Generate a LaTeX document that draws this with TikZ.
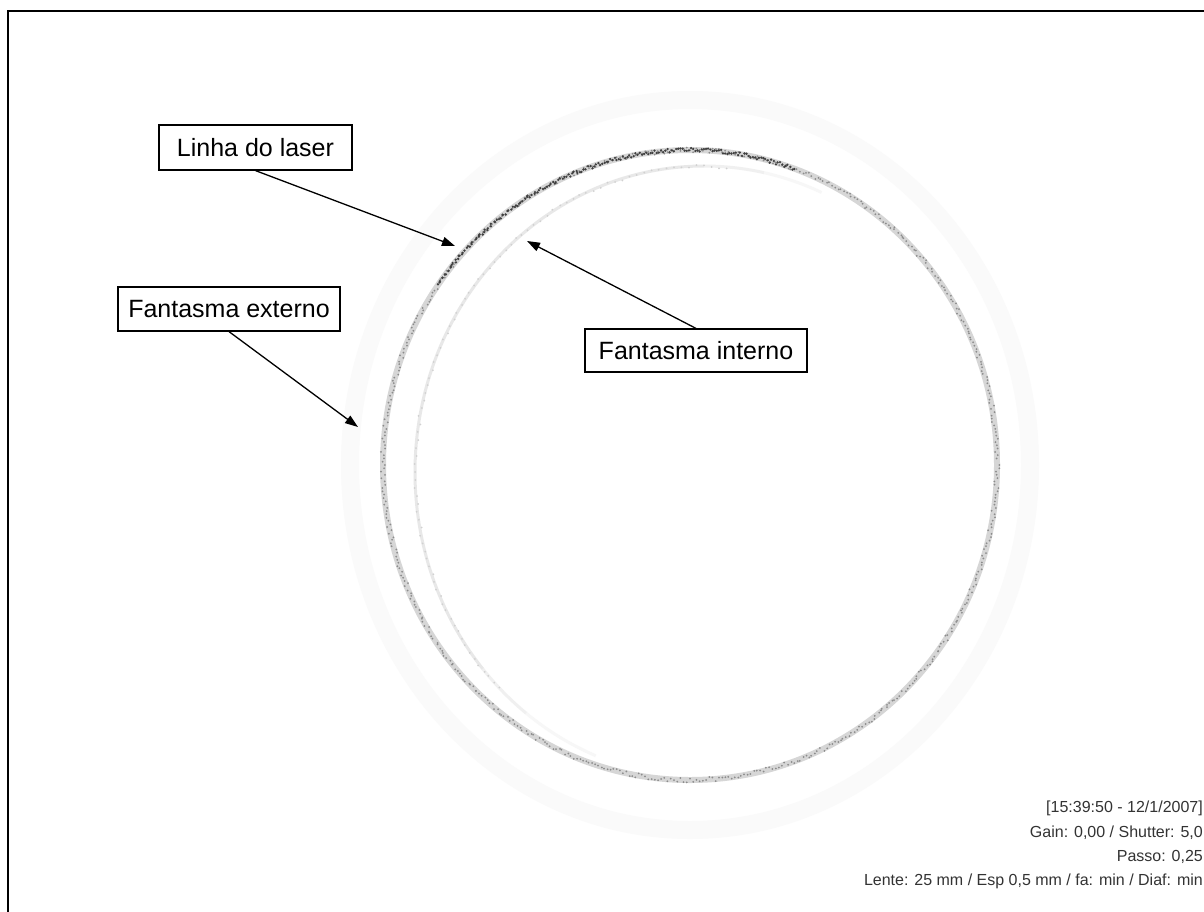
\documentclass[tikz,border=0pt]{standalone}
\usepackage{fontspec}
\setmainfont{Liberation Sans}
\usetikzlibrary{positioning,arrows.meta,calc}

\begin{document}
\begin{tikzpicture}[
  x=1pt, y=-1pt,
  labelbox/.style={draw=black, fill=white, line width=1.2pt, inner sep=0pt, font=\fontsize{25}{30}\selectfont},
  arrow/.style={-{Triangle[length=13pt,width=9pt]}, line width=1.3pt},
  info/.style={anchor=base east, inner sep=0pt, text=black!80, font=\fontsize{16}{19}\selectfont}
]
\useasboundingbox (0,0) rectangle (1204,911);
\clip (0,0) rectangle (1204,911);
\fill[white] (0,0) rectangle (1204,911);
\draw[line width=2.6pt] (8,950) |- (1250,11);

% rings
\coordinate (ring) at (690,465);
\coordinate (ghostin) at (704,472);
\draw[black!2, line width=18pt] (ring) ellipse (340 and 365);
\foreach \s/\e/\c in {112/128/3, 128/140/6, 140/270/9, 270/282/6, 282/294/3}
  \draw[black!\c, line width=3pt] (ghostin) ++(\s:289 and 306) arc[start angle=\s, end angle=\e, x radius=289, y radius=306];
\draw[black!16, line width=6pt] (ring) ellipse (307 and 315);
\pgfmathsetseed{42}
\foreach \a in {135,136.5,...,275}{
  \pgfmathsetmacro\px{704+(289+2*rand)*cos(\a)}
  \pgfmathsetmacro\py{472+(306+2*rand)*sin(\a)}
  \fill[black!18] (\px,\py) circle (1);
}
\foreach \a in {0,0.6,...,359.4}{
  \pgfmathsetmacro\px{690+(307+2.5*rand)*cos(\a)}
  \pgfmathsetmacro\py{465+(315+2.5*rand)*sin(\a)}
  \fill[black!45] (\px,\py) circle (1);
}
\foreach \a in {215,215.4,...,290}{
  \pgfmathsetmacro\px{690+(307+2*rand)*cos(\a)}
  \pgfmathsetmacro\py{465+(315+2*rand)*sin(\a)}
  \fill[black!75] (\px,\py) circle (1.3);
}

% labels
\node[labelbox, minimum width=193pt, minimum height=45pt] (laser) at (255.5,147.5) {Linha do laser};
\node[labelbox, minimum width=222pt, minimum height=44pt] (externo) at (229,309) {Fantasma externo};
\node[labelbox, minimum width=222pt, minimum height=43pt] (interno) at (696,350.5) {Fantasma interno};

\coordinate (laserTip) at (455,246);
\coordinate (externoTip) at (358,427);
\coordinate (internoTip) at (527,241);
\draw[arrow] (laser.south) -- (laserTip);
\draw[arrow] (externo.south) -- (externoTip);
\draw[arrow] (interno.north) -- (internoTip);

% camera info
\node[info] (stamp) at (1203,812) {[15:39:50 - 12/1/2007]};
\node[info] (gain) at (1203,837) {Gain: 0,00 / Shutter: 5,0};
\node[info] (passo) at (1203,861) {Passo: 0,25};
\node[info] (lente) at (1203,885) {Lente: 25 mm / Esp 0,5 mm / fa: min / Diaf: min};
\end{tikzpicture}
\end{document}
